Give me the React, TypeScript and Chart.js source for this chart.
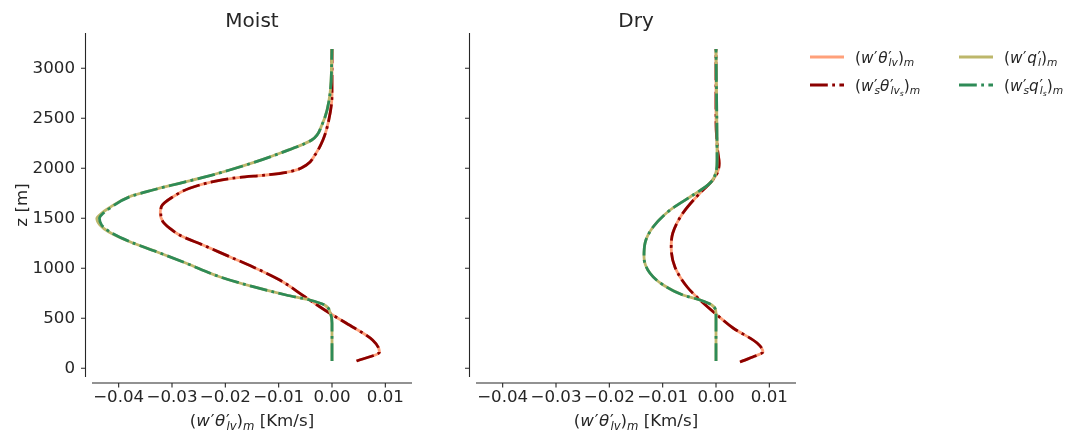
import React, { useEffect, useRef } from 'react';
import { Chart, registerables } from 'chart.js';
Chart.register(...registerables);

// ---- axis ticks / limits ----
const X_TICKS = [-0.04, -0.03, -0.02, -0.01, 0, 0.01];
const Z_TICKS = [0, 500, 1000, 1500, 2000, 2500, 3000];
const X_MIN = -0.045;
const X_MAX = 0.015;
const Z_MIN = -87;
const Z_MAX = 3353;

// ---- Moist panel ----
const MOIST_Z_TH = [73, 163, 283, 450, 550, 716, 883, 1016, 1116, 1233, 1333, 1400, 1466, 1553, 1616, 1716, 1800, 1866, 1910, 1933, 1966, 2033, 2133, 2283, 2483, 2733, 3193];
const MOIST_TH = [0.0046, 0.0089, 0.0076, 0.0027, -0.0004, -0.0051, -0.0098, -0.0149, -0.0192, -0.0242, -0.0286, -0.0304, -0.0317, -0.0322, -0.0320, -0.0298, -0.0267, -0.0223, -0.0173, -0.0123, -0.0079, -0.0048, -0.0032, -0.0017, -0.0006, 0, 0];
const MOIST_TH_S = [0.0046, 0.0089, 0.0076, 0.0027, -0.0004, -0.0051, -0.0098, -0.0149, -0.0192, -0.0242, -0.0286, -0.0304, -0.0317, -0.0321, -0.0320, -0.0298, -0.0267, -0.0223, -0.0173, -0.0123, -0.0079, -0.0048, -0.0032, -0.0017, -0.0006, 0, 0];
const MOIST_Z_Q = [73, 453, 550, 633, 683, 733, 816, 916, 1050, 1166, 1266, 1366, 1433, 1500, 1550, 1600, 1716, 1783, 1850, 1916, 1983, 2066, 2150, 2283, 2433, 2733, 3193];
const MOIST_Q = [0, 0, -0.0003, -0.0014, -0.0042, -0.0086, -0.0148, -0.0211, -0.0273, -0.0329, -0.0379, -0.0419, -0.0435, -0.0441, -0.0432, -0.0419, -0.0380, -0.0336, -0.0286, -0.0236, -0.0192, -0.0142, -0.0098, -0.0038, -0.0019, -0.0004, 0];
const MOIST_Q_S = [0, 0, -0.0003, -0.0014, -0.0042, -0.0086, -0.0148, -0.0211, -0.0273, -0.0329, -0.0379, -0.0417, -0.0432, -0.0436, -0.0429, -0.0417, -0.0379, -0.0336, -0.0286, -0.0236, -0.0192, -0.0142, -0.0098, -0.0038, -0.0019, -0.0004, 0];

// ---- Dry panel ----
const DRY_Z_TH = [63, 120, 163, 253, 403, 533, 683, 813, 1013, 1213, 1353, 1553, 1753, 1853, 1950, 2050, 2183, 2483, 3193];
const DRY_TH = [0.0045, 0.0072, 0.0088, 0.0077, 0.0032, 0.0002, -0.0030, -0.0054, -0.0077, -0.0084, -0.0081, -0.0062, -0.0030, -0.0011, 0.0002, 0.0006, 0.0003, 0, 0];
const DRY_TH_S = [0.0045, 0.0072, 0.0088, 0.0077, 0.0032, 0.0002, -0.0030, -0.0054, -0.0077, -0.0084, -0.0081, -0.0062, -0.0030, -0.0011, 0.0002, 0.0006, 0.0003, 0, 0];
const DRY_Z_Q = [73, 553, 633, 683, 733, 833, 953, 1113, 1253, 1413, 1583, 1733, 1853, 1960, 2083, 3193];
const DRY_Q = [0, 0, -0.0008, -0.0030, -0.0062, -0.0099, -0.0124, -0.0135, -0.0133, -0.0118, -0.0086, -0.0043, -0.0011, 0, 0.0002, 0];
const DRY_Q_S = [0, 0, -0.0008, -0.0030, -0.0062, -0.0099, -0.0124, -0.0135, -0.0133, -0.0118, -0.0086, -0.0043, -0.0011, 0, 0.0002, 0];

const C_TH = '#FFA07A';
const C_TH_S = '#8B0000';
const C_Q = '#BDB76B';
const C_Q_S = '#2E8B57';
const DASHDOT = [17.8, 4.4, 2.8, 4.4];
const INK = '#262626';
const FONT = "'DejaVu Sans'";
const TICK_SIZE = 16.67;
const LABEL_SIZE = 16.67;
const LEGEND_SIZE = 15.3;
const TITLE_SIZE = 20;

const zip = (xs: number[], zs: number[]) => xs.map((x, i) => ({ x, y: zs[i] }));
const fmtX = (v: number) => (v < 0 ? '\u2212' : '') + Math.abs(v).toFixed(2);

function mplAxes(title: string) {
  return {
    id: 'mplAxes',
    afterDraw(chart: any) {
      const { ctx, chartArea: a, scales } = chart;
      const xs = scales.x;
      const ys = scales.y;
      ctx.save();
      ctx.strokeStyle = INK;
      ctx.lineWidth = 1.1;
      const sx = a.left - 6.5;
      const sy = a.bottom + 6;
      ctx.beginPath();
      ctx.moveTo(sx, a.top);
      ctx.lineTo(sx, a.bottom);
      ctx.moveTo(a.left, sy);
      ctx.lineTo(a.right, sy);
      ys.ticks.forEach((t: any) => {
        const p = ys.getPixelForValue(t.value);
        ctx.moveTo(sx - 4.5, p);
        ctx.lineTo(sx, p);
      });
      xs.ticks.forEach((t: any) => {
        const p = xs.getPixelForValue(t.value);
        ctx.moveTo(p, sy);
        ctx.lineTo(p, sy + 4.5);
      });
      ctx.stroke();
      ctx.fillStyle = INK;
      ctx.font = `${TITLE_SIZE}px ${FONT}`;
      ctx.textAlign = 'center';
      ctx.textBaseline = 'alphabetic';
      ctx.fillText(title, (a.left + a.right) / 2, 27);
      ctx.restore();
    },
  };
}

function makeConfig(
  title: string,
  zTh: number[], th: number[], thS: number[],
  zQ: number[], q: number[], qS: number[],
  showY: boolean, yWidth: number, rightPad: number
): any {
  const ds = (label: string, data: any[], color: string, dash: number[], order: number) => ({
    label,
    data,
    borderColor: color,
    backgroundColor: color,
    borderWidth: 2.8,
    borderDash: dash,
    pointRadius: 0,
    cubicInterpolationMode: 'monotone',
    indexAxis: 'y',
    fill: false,
    order,
  });
  return {
    type: 'line',
    data: {
      datasets: [
        ds('th', zip(th, zTh), C_TH, [], 4),
        ds('thS', zip(thS, zTh), C_TH_S, DASHDOT, 3),
        ds('q', zip(q, zQ), C_Q, [], 2),
        ds('qS', zip(qS, zQ), C_Q_S, DASHDOT, 1),
      ],
    },
    options: {
      indexAxis: 'y',
      responsive: false,
      animation: false,
      devicePixelRatio: 1,
      layout: { padding: { left: 0, top: 33, right: rightPad, bottom: 0 } },
      plugins: { legend: { display: false }, tooltip: { enabled: false }, title: { display: false } },
      scales: {
        x: {
          type: 'linear',
          min: X_MIN,
          max: X_MAX,
          afterBuildTicks: (s: any) => { s.ticks = X_TICKS.map((v) => ({ value: v })); },
          afterFit: (s: any) => { s.height = 57; },
          grid: { display: false, drawTicks: false },
          border: { display: false },
          ticks: {
            padding: 11,
            color: INK,
            font: { family: FONT, size: TICK_SIZE },
            maxRotation: 0,
            autoSkip: false,
            callback: (v: any) => fmtX(Number(v)),
          },
        },
        y: {
          type: 'linear',
          min: Z_MIN,
          max: Z_MAX,
          reverse: false,
          afterBuildTicks: (s: any) => { s.ticks = Z_TICKS.map((v) => ({ value: v })); },
          afterFit: (s: any) => { s.width = yWidth; },
          grid: { display: false, drawTicks: false },
          border: { display: false },
          title: {
            display: showY,
            text: 'z [m]',
            color: INK,
            font: { family: FONT, size: LABEL_SIZE },
            padding: { top: 12.5, bottom: 0 },
          },
          ticks: {
            display: showY,
            padding: 17,
            color: INK,
            font: { family: FONT, size: TICK_SIZE },
            autoSkip: false,
            callback: (v: any) => String(v),
          },
        },
      },
    },
    plugins: [mplAxes(title)],
  };
}

const PRIME_EM = 0.24;

const Sub: React.FC<{ children: React.ReactNode; ml?: string; dy?: string; size?: string }> = ({ children, ml = '0', dy = '0.32em', size = '70%' }) => (
  <span style={{ fontSize: size, position: 'relative', top: dy, marginLeft: ml, fontStyle: 'italic' }}>{children}</span>
);
const I: React.FC<{ children: React.ReactNode }> = ({ children }) => (
  <span style={{ fontStyle: 'italic', marginRight: '0.04em' }}>{children}</span>
);
const P = () => <span style={{ marginRight: '0.04em' }}>′</span>;
const back = `-${PRIME_EM / 0.7}em`;

const LblTheta = () => (
  <span>(<I>w</I><P /><I>θ</I><P /><Sub ml={back}>lv</Sub>)<Sub>m</Sub></span>
);
const LblThetaS = () => (
  <span>(<I>w</I><P /><Sub ml={back}>s</Sub><I>θ</I><P /><Sub ml={back}>lv<Sub dy="0.25em">s</Sub></Sub>)<Sub>m</Sub></span>
);
const LblQ = () => (
  <span>(<I>w</I><P /><I>q</I><P /><Sub ml={back}>l</Sub>)<Sub>m</Sub></span>
);
const LblQS = () => (
  <span>(<I>w</I><P /><Sub ml={back}>s</Sub><I>q</I><P /><Sub ml={back}>l<Sub dy="0.25em">s</Sub></Sub>)<Sub>m</Sub></span>
);

const textStyle: React.CSSProperties = {
  position: 'absolute',
  fontFamily: FONT,
  lineHeight: '20px',
  color: INK,
  whiteSpace: 'nowrap',
};

const LegendItem: React.FC<{ x: number; y: number; color: string; dash: number[]; children: React.ReactNode }> = ({ x, y, color, dash, children }) => (
  <>
    <svg style={{ position: 'absolute', left: x, top: y - 4 }} width={34} height={8}>
      <line x1={0} y1={4} x2={34} y2={4} stroke={color} strokeWidth={2.8} strokeDasharray={dash.length ? dash.join(' ') : undefined} />
    </svg>
    <div style={{ ...textStyle, fontSize: `${LEGEND_SIZE}px`, left: x + 45, top: y - 9 }}>{children}</div>
  </>
);

export default function App() {
  const leftRef = useRef<HTMLCanvasElement>(null);
  const rightRef = useRef<HTMLCanvasElement>(null);

  useEffect(() => {
    const c1 = new Chart(leftRef.current as HTMLCanvasElement,
      makeConfig('Moist', MOIST_Z_TH, MOIST_TH, MOIST_TH_S, MOIST_Z_Q, MOIST_Q, MOIST_Q_S, true, 92, 28));
    const c2 = new Chart(rightRef.current as HTMLCanvasElement,
      makeConfig('Dry', DRY_Z_TH, DRY_TH, DRY_TH_S, DRY_Z_Q, DRY_Q, DRY_Q_S, false, 36, 24));
    return () => { c1.destroy(); c2.destroy(); };
  }, []);

  const xLabel: React.CSSProperties = { ...textStyle, fontSize: `${LABEL_SIZE}px`, width: 320, textAlign: 'center', top: 411 };

  return (
    <div style={{ position: 'absolute', left: 0, top: 0, width: 1083, height: 434, background: '#fff', overflow: 'hidden' }}>
      <canvas ref={leftRef} width={440} height={434} style={{ position: 'absolute', left: 0, top: 0 }} />
      <canvas ref={rightRef} width={380} height={434} style={{ position: 'absolute', left: 440, top: 0 }} />
      <div style={{ ...xLabel, left: 92 }}>
        <LblTheta /> [Km/s]
      </div>
      <div style={{ ...xLabel, left: 476 }}>
        <LblTheta /> [Km/s]
      </div>
      <LegendItem x={810} y={57} color={C_TH} dash={[]}><LblTheta /></LegendItem>
      <LegendItem x={810} y={85} color={C_TH_S} dash={DASHDOT}><LblThetaS /></LegendItem>
      <LegendItem x={959} y={57} color={C_Q} dash={[]}><LblQ /></LegendItem>
      <LegendItem x={959} y={85} color={C_Q_S} dash={DASHDOT}><LblQS /></LegendItem>
    </div>
  );
}
